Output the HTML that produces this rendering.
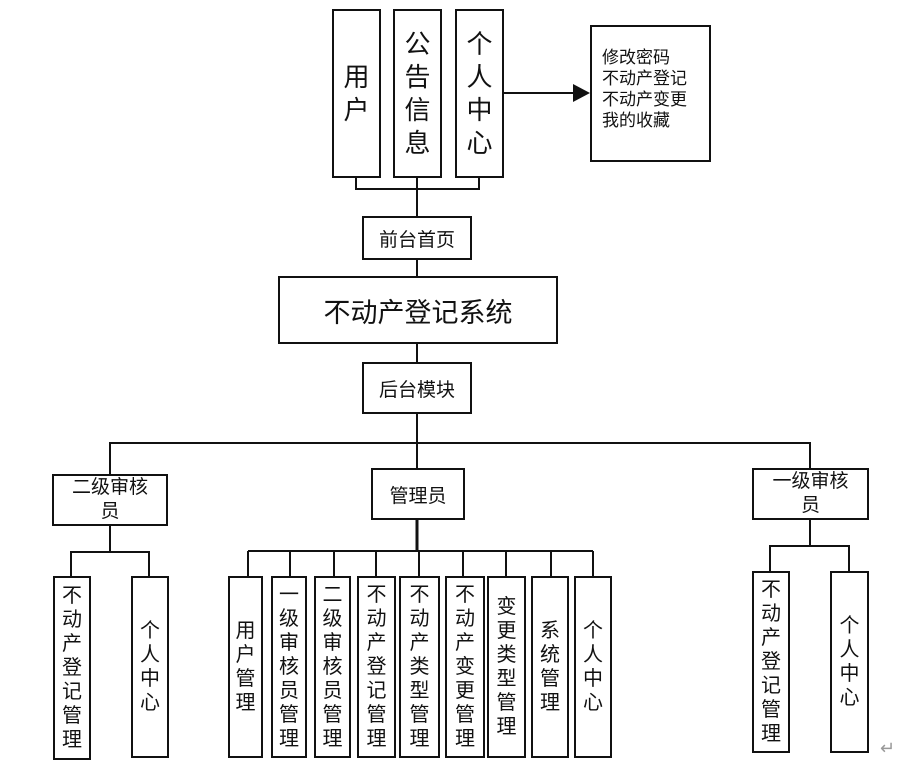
<!DOCTYPE html>
<html><head><meta charset="utf-8"><style>
body{margin:0;background:#fff;}
#c{position:relative;width:921px;height:770px;overflow:hidden;font-family:"Liberation Sans","Noto Sans CJK SC",sans-serif;color:#111;}
.b{position:absolute;box-sizing:border-box;border:2px solid #111;background:#fff;display:flex;align-items:center;justify-content:center;text-align:center;}
.v{flex-direction:column;}
.v span{display:block;}
.t{align-items:center;justify-content:flex-start;}
svg{position:absolute;left:0;top:0;}
</style></head><body><div id="c">
<svg width="921" height="770">
<g stroke="#111" stroke-width="2" fill="none">
<polyline points="356,177 356,189 479,189 479,177"/>
<line x1="417" y1="177" x2="417" y2="216"/>
<line x1="503" y1="93" x2="575" y2="93"/>
<line x1="417" y1="259" x2="417" y2="276"/>
<line x1="417" y1="344" x2="417" y2="362"/>
<line x1="417" y1="414" x2="417" y2="468"/>
<polyline points="110,474 110,443 810,443 810,468"/>
<line x1="110" y1="526" x2="110" y2="552"/>
<polyline points="71,576 71,552 149,552 149,576"/>
<line x1="810" y1="520" x2="810" y2="546"/>
<polyline points="770,572 770,546 849,546 849,572"/>
<line x1="417" y1="520" x2="417" y2="551" stroke-width="3"/>
<line x1="248" y1="551" x2="593" y2="551"/>
<line x1="248" y1="551" x2="248" y2="576"/><line x1="290" y1="551" x2="290" y2="576"/>
<line x1="334" y1="551" x2="334" y2="576"/><line x1="376" y1="551" x2="376" y2="576"/>
<line x1="419" y1="551" x2="419" y2="576"/><line x1="463" y1="551" x2="463" y2="576"/>
<line x1="506" y1="551" x2="506" y2="576"/><line x1="551" y1="551" x2="551" y2="576"/>
<line x1="593" y1="551" x2="593" y2="576"/>
</g>
<polygon points="590,93 573,84 573,102" fill="#111"/>
</svg>

<div class="b v" style="left:332px;top:9px;width:49px;height:169px;font-size:26px;line-height:33px"><span>用</span><span>户</span></div>
<div class="b v" style="left:393px;top:9px;width:49px;height:169px;font-size:26px;line-height:33px"><span>公</span><span>告</span><span>信</span><span>息</span></div>
<div class="b v" style="left:455px;top:9px;width:49px;height:169px;font-size:26px;line-height:33px"><span>个</span><span>人</span><span>中</span><span>心</span></div>
<div class="b" style="left:590px;top:25px;width:121px;height:137px;font-size:17px;line-height:21px;text-align:left;justify-content:flex-start;padding-left:10px;align-items:flex-start;padding-top:20px">修改密码<br>不动产登记<br>不动产变更<br>我的收藏</div>

<div class="b" style="left:362px;top:216px;width:110px;height:44px;font-size:19px">前台首页</div>
<div class="b" style="left:278px;top:276px;width:280px;height:68px;font-size:27px">不动产登记系统</div>
<div class="b" style="left:362px;top:362px;width:110px;height:52px;font-size:19px">后台模块</div>
<div class="b" style="left:52px;top:474px;width:116px;height:52px;font-size:19px;line-height:24px">二级审核<br>员</div>
<div class="b" style="left:371px;top:468px;width:94px;height:52px;font-size:19px">管理员</div>
<div class="b" style="left:752px;top:468px;width:117px;height:52px;font-size:19px;line-height:24px">一级审核<br>员</div>

<div class="b v" style="left:53px;top:576px;width:38px;height:184px;font-size:20px;line-height:24px"><span>不</span><span>动</span><span>产</span><span>登</span><span>记</span><span>管</span><span>理</span></div>
<div class="b v" style="left:131px;top:576px;width:38px;height:182px;font-size:20px;line-height:24px"><span>个</span><span>人</span><span>中</span><span>心</span></div>
<div class="b v" style="left:752px;top:571px;width:38px;height:182px;font-size:20px;line-height:24px"><span>不</span><span>动</span><span>产</span><span>登</span><span>记</span><span>管</span><span>理</span></div>
<div class="b v" style="left:830px;top:571px;width:39px;height:182px;font-size:20px;line-height:24px"><span>个</span><span>人</span><span>中</span><span>心</span></div>

<div class="b v" style="left:228px;top:576px;width:35px;height:182px;font-size:20px;line-height:24px"><span>用</span><span>户</span><span>管</span><span>理</span></div>
<div class="b v" style="left:271px;top:576px;width:36px;height:182px;font-size:20px;line-height:24px"><span>一</span><span>级</span><span>审</span><span>核</span><span>员</span><span>管</span><span>理</span></div>
<div class="b v" style="left:314px;top:576px;width:37px;height:182px;font-size:20px;line-height:24px"><span>二</span><span>级</span><span>审</span><span>核</span><span>员</span><span>管</span><span>理</span></div>
<div class="b v" style="left:357px;top:576px;width:39px;height:182px;font-size:20px;line-height:24px"><span>不</span><span>动</span><span>产</span><span>登</span><span>记</span><span>管</span><span>理</span></div>
<div class="b v" style="left:399px;top:576px;width:41px;height:182px;font-size:20px;line-height:24px"><span>不</span><span>动</span><span>产</span><span>类</span><span>型</span><span>管</span><span>理</span></div>
<div class="b v" style="left:445px;top:576px;width:40px;height:182px;font-size:20px;line-height:24px"><span>不</span><span>动</span><span>产</span><span>变</span><span>更</span><span>管</span><span>理</span></div>
<div class="b v" style="left:487px;top:576px;width:39px;height:182px;font-size:20px;line-height:24px"><span>变</span><span>更</span><span>类</span><span>型</span><span>管</span><span>理</span></div>
<div class="b v" style="left:531px;top:576px;width:38px;height:182px;font-size:20px;line-height:24px"><span>系</span><span>统</span><span>管</span><span>理</span></div>
<div class="b v" style="left:574px;top:576px;width:38px;height:182px;font-size:20px;line-height:24px"><span>个</span><span>人</span><span>中</span><span>心</span></div>

<div style="position:absolute;left:880px;top:738px;font-size:18px;color:#999">↵</div>
</div></body></html>
